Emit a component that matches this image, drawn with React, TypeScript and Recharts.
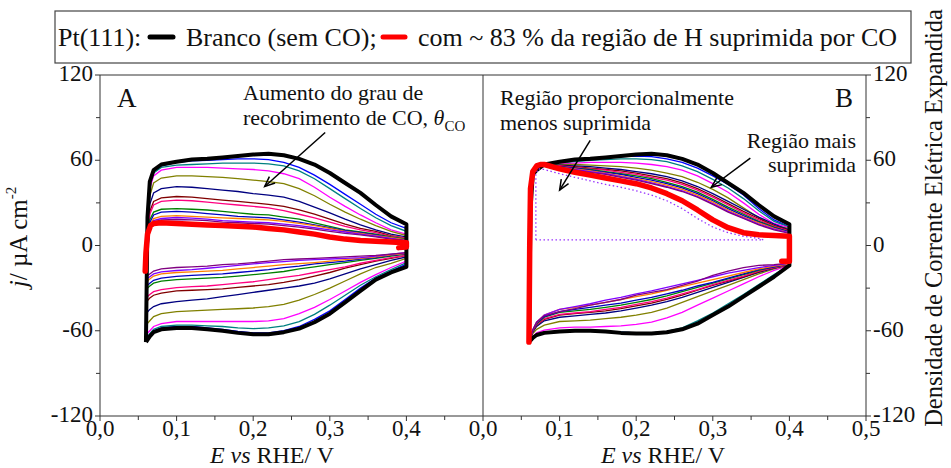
import { LineChart, Line, XAxis, YAxis, ReferenceLine } from "recharts";

/* ===== potential grids (V vs RHE) ===== */
const E_UP = [0.06, 0.062, 0.065, 0.07, 0.08, 0.1, 0.12, 0.14, 0.16, 0.18, 0.2, 0.22, 0.24, 0.26, 0.28, 0.3, 0.32, 0.34, 0.36, 0.38, 0.4];
const E_DN = [0.4, 0.38, 0.36, 0.34, 0.32, 0.3, 0.28, 0.26, 0.24, 0.22, 0.2, 0.18, 0.16, 0.14, 0.12, 0.1, 0.08, 0.07, 0.065, 0.06];

const X_TICKS_A = [0, 0.05, 0.1, 0.15, 0.2, 0.25, 0.3, 0.35, 0.4, 0.45];
const X_TICKS_B = [0, 0.05, 0.1, 0.15, 0.2, 0.25, 0.3, 0.35, 0.4, 0.45, 0.5];
const Y_TICKS = [-120, -90, -60, -30, 0, 30, 60, 90, 120];

// black (blank), blue, teal, magenta, olive, navy, maroon, pink, green, blue, orange, violet, purple
const SERIES_COLORS = ["#000000", "#0000FF", "#008080", "#FF00FF", "#808000", "#000080", "#800000", "#FF0080", "#008000", "#0000C0", "#FF8000", "#8000FF", "#800080"];

/* ===== Panel A: anodic branch (E_UP) ===== */
const A_UP = [
  [-68, 20, 45, 53, 57, 59, 60.5, 61, 62, 63, 64, 64.5, 63.5, 61, 57, 51, 44, 37, 28.5, 20.5, 15],
  [-66, 18, 43, 52, 56, 58.5, 59.5, 60, 60.5, 61, 61, 60.5, 58.5, 55, 49.5, 43, 36, 29, 22, 16, 12],
  [-65, 16, 42, 51, 55, 56.5, 57, 57.5, 58, 58, 58, 57.5, 56, 52.5, 47, 40, 33, 26, 19.5, 14, 10],
  [-63, 14, 40, 49, 53, 55, 55, 55, 54.5, 54, 53.5, 52.5, 50.5, 47, 41, 34, 27.5, 21.5, 16, 11, 8],
  [-56, 10, 35, 44, 47.5, 49, 49, 48.5, 48, 47, 46, 45, 43.5, 40, 35, 29, 23.5, 18.5, 14, 10, 7],
  [-48, 5, 29, 37, 40, 41.5, 41, 40, 39, 38, 36.5, 35.5, 34, 31, 27, 23, 18.5, 14.5, 11, 8, 6],
  [-40, 2, 24, 31, 33.5, 34.5, 34, 33, 32, 31, 30, 29, 27.5, 25, 22, 18.5, 15, 12, 10, 7, 5],
  [-37, 1, 22, 28.5, 31, 32, 31.5, 30.5, 29.5, 28.5, 27.5, 26.5, 24.5, 22, 19.5, 16.5, 13.5, 11, 9, 6.5, 5],
  [-31, -1, 18, 23.5, 25.5, 26, 25.5, 25, 24, 23, 22, 21.5, 20, 18.5, 16, 13.5, 11, 9.5, 8, 6, 4.5],
  [-29, -2, 16, 21.5, 23.5, 24, 23.5, 22.5, 21.5, 20.5, 20, 19.5, 18, 16.5, 14.5, 12.5, 10.5, 9, 7.5, 5.5, 4],
  [-26, -3, 14, 19, 20.5, 21, 20.5, 20, 19.5, 19, 18.5, 18, 17, 15.5, 14, 12, 10, 8.5, 7, 5.5, 4],
  [-24, -4, 12.5, 17.5, 19, 19.7, 19.2, 18.5, 17.5, 17, 16.5, 16, 15, 14, 12.5, 11, 9.5, 8, 6.5, 5, 3.5],
  [-22, -5, 11.5, 16.5, 18, 18.3, 18, 17.5, 16.5, 16, 15.5, 15, 14, 13, 11.5, 10, 8.5, 7.5, 6, 4.5, 3.5],
];

/* ===== Panel A: cathodic branch (E_DN) ===== */
const A_DN = [
  [-15, -19, -24, -32, -40, -48, -54, -58.5, -61, -62.5, -62.5, -61.5, -60, -59, -58, -58, -59, -61, -64, -68],
  [-13, -18, -23, -30, -38, -46, -52, -57, -60, -61.5, -61.5, -60.5, -59, -58, -57, -57, -58, -60, -63, -66],
  [-12, -17, -22, -28, -35, -42, -48.5, -53.5, -56.5, -58, -58.5, -58, -57, -56.5, -56, -56, -57, -59, -62, -65],
  [-11, -15.5, -20.5, -26, -32, -38, -43.5, -48, -51.5, -53, -53.5, -53.5, -53.5, -53.5, -53.5, -53.5, -55, -57, -60, -63],
  [-9, -12.5, -15.5, -20, -25, -30, -34.5, -38.5, -41.5, -43, -44, -44.5, -45, -45.5, -46, -46.5, -48, -50, -53, -56],
  [-8, -10.5, -13.5, -16.5, -20, -23.5, -26.5, -28.5, -30, -31.5, -33, -34.5, -36, -37.5, -38.5, -39.5, -41, -43, -45, -48],
  [-7, -9, -11, -13.5, -16, -19, -21.5, -24, -26, -27.5, -28.5, -29.5, -30.5, -31, -31.5, -32, -33.5, -35, -37, -40],
  [-7, -8.5, -10.5, -12.5, -15, -17, -19, -21, -22.5, -24, -25.5, -26.5, -27.5, -28.5, -29, -29.6, -31, -32.5, -34.5, -37],
  [-6, -7.5, -9, -10.5, -12, -13.5, -15, -16.5, -18.3, -19.5, -20.5, -21.5, -22.5, -23, -23.5, -24, -25, -26.5, -28.5, -31],
  [-6, -7, -8.5, -9.5, -11, -12, -13, -14.5, -15.5, -17, -18, -19, -20, -20.5, -21, -21.8, -23, -24.5, -26.5, -29],
  [-5.5, -6.5, -8, -9, -10, -11, -12, -12.8, -13.4, -14.5, -15.5, -16.5, -17.5, -18, -18.5, -19, -20, -21.5, -23.5, -26],
  [-5, -6, -7.5, -8.5, -9, -9.5, -10, -10.5, -11.3, -12, -13, -14, -15, -16, -17, -17.6, -18.5, -20, -22, -24],
  [-5, -6, -7, -7.5, -8, -8.5, -9, -9.5, -10, -11, -12, -13, -13.5, -14.5, -15, -15.5, -16.5, -18, -20, -22],
];

/* ===== Panel A: red (~83 % H region suppressed) ===== */
const A_RED_E = [0.059, 0.06, 0.062, 0.066, 0.07, 0.08, 0.1, 0.12, 0.14, 0.16, 0.18, 0.2, 0.22, 0.24, 0.26, 0.28, 0.3, 0.32, 0.34, 0.36, 0.38, 0.4, 0.4, 0.39];
const A_RED_J = [-18, -5, 8, 14, 15.5, 16, 15.5, 15, 14.5, 14, 13.5, 13, 12, 11, 9.5, 8, 6, 4.5, 3.5, 3, 2.5, 2, -1, -1.5];

/* ===== Panel B (expanded): anodic branch ===== */
const B_UP = [
  [-68, 25, 50, 53, 57, 59, 60.5, 61, 62, 63, 64, 64.5, 63.5, 61, 57, 51, 44, 37, 28.5, 20.5, 15],
  [-68, 25, 50, 53, 57, 58.5, 59.5, 60.5, 61.5, 62.5, 63, 62.5, 61, 58.5, 54.5, 49, 43, 35.5, 26, 18, 13],
  [-68, 25, 50, 53, 57, 58, 59, 60, 60.5, 61, 61, 60.5, 59, 56, 52, 46.5, 40.5, 33, 24.5, 17, 13],
  [-68, 25, 50, 53, 57, 57.5, 58, 58.5, 58.5, 58.5, 58, 57, 55.5, 53, 49, 43.5, 37.5, 30, 22, 15.5, 12.5],
  [-68, 25, 50, 53, 57, 57, 57, 56.5, 56, 55.5, 54.5, 53, 51, 48.5, 44.5, 39.5, 33.5, 26.5, 19.5, 14, 12],
  [-68, 25, 50, 53, 56.5, 56.5, 56, 55.5, 54.5, 53.5, 52, 50.5, 48.5, 45.5, 41.5, 36.5, 31, 25.5, 20, 15, 11],
  [-68, 25, 50, 53, 56.5, 56, 55.5, 54.5, 53.5, 52.5, 51, 49, 47, 44, 40, 35, 29.5, 24, 19, 14, 10.5],
  [-68, 25, 50, 53, 56.5, 56, 55, 54, 53, 51.5, 50, 48, 46, 43, 39, 34, 28.5, 23, 18, 13.5, 10],
  [-68, 25, 50, 53, 56.5, 55.5, 54.5, 53.5, 52, 50.5, 49, 47, 44.5, 41.5, 37.5, 32.5, 27, 22, 17, 13, 9.5],
  [-68, 25, 50, 53, 56.5, 55.5, 54.5, 53, 51.5, 50, 48, 46, 43.5, 40.5, 36.5, 31.5, 26, 21, 16.5, 12.5, 9.5],
  [-68, 25, 50, 53, 56.5, 55, 54, 52.5, 51, 49, 47, 45, 42.5, 39.5, 35.5, 30.5, 25, 20, 16, 12, 9],
  [-68, 25, 50, 53, 56.5, 55, 53.5, 52, 50.5, 48.5, 46.5, 44, 41.5, 38.5, 34.5, 29.5, 24, 19.5, 15, 11.5, 9],
  [-68, 25, 50, 53, 56.5, 54.5, 53, 51.5, 50, 48, 46, 43.5, 41, 38, 34, 29, 23.5, 19, 14.5, 11, 8.5],
];

/* ===== Panel B (expanded): cathodic branch ===== */
const B_DN = [
  [-14, -22, -29, -36, -43, -49, -55, -59, -61, -62, -62, -61.5, -60.5, -60, -60, -60.5, -61.5, -63, -65, -68],
  [-14, -21, -28, -35, -42, -48.5, -54, -58.5, -60.5, -61.5, -61.5, -61, -60.5, -60, -60, -60.5, -61.5, -63, -65, -68],
  [-14, -20.5, -27.5, -34.5, -41, -47.5, -53, -58, -60.5, -61.5, -61.5, -61, -60.5, -60, -60, -60.5, -61.5, -63, -65, -68],
  [-14, -17.5, -22, -27, -32, -37, -42, -47, -51, -54, -55.5, -56.5, -57, -57.5, -57.5, -58, -59.5, -61.5, -64, -68],
  [-13.5, -16.5, -20, -24, -28, -32, -36, -40, -44, -47, -49, -50.5, -51.5, -52.5, -53, -53.5, -56, -59, -62, -68],
  [-13.5, -16, -19, -22.5, -26, -29.5, -33, -36.5, -39.5, -42, -44, -46, -47.5, -48.5, -49.5, -50.5, -53, -57, -61, -68],
  [-13.5, -15.5, -18.5, -22, -25, -28, -31.5, -35, -38, -40.5, -42.5, -44.5, -46, -47, -48, -49, -52, -56, -60.5, -68],
  [-13.5, -15.5, -18, -21.5, -24.5, -27.5, -31, -34, -37, -39.5, -41.5, -43.5, -45, -46.5, -47.5, -48.5, -51.5, -55.5, -60, -68],
  [-13, -15, -17.5, -20.5, -23.5, -26.5, -29.5, -32.5, -35.5, -38, -40, -42, -43.5, -45, -46, -47, -50.5, -55, -60, -68],
  [-13, -15, -17, -20, -23, -26, -28.5, -31.5, -34, -36.5, -38.5, -40.5, -42, -43.5, -45, -46.5, -50, -54.5, -59.5, -68],
  [-13, -14.5, -16.5, -19, -21.5, -24, -26.5, -29, -31.5, -34, -36, -38, -40, -42, -43.5, -45, -49, -54, -59.5, -68],
  [-12.5, -14, -15.5, -17.5, -19.5, -22, -24.5, -27, -29.5, -32, -34, -36.5, -38.5, -41, -43, -45, -49, -54, -59.5, -68],
  [-12.5, -13.5, -14, -15.5, -18, -21, -25, -28, -31, -33, -35, -38, -40, -42, -44.5, -46.5, -49.5, -54, -59.5, -68],
];

/* ===== Panel B: red + dotted "less suppressed" region ===== */
const B_RED_E = [0.06, 0.061, 0.062, 0.065, 0.07, 0.075, 0.08, 0.1, 0.12, 0.14, 0.16, 0.18, 0.2, 0.22, 0.24, 0.26, 0.28, 0.3, 0.32, 0.34, 0.36, 0.38, 0.4, 0.4, 0.39];
const B_RED_J = [-68, 0, 40, 52, 56, 57, 57, 54, 51.5, 49.5, 47.5, 45.5, 43.5, 40.5, 36.5, 31.5, 25, 18, 12.5, 9, 7.5, 7, 6.5, -11, -11];
const B_DOT_E = [0.069, 0.069, 0.072, 0.08, 0.1, 0.12, 0.14, 0.16, 0.18, 0.2, 0.22, 0.24, 0.26, 0.28, 0.3, 0.32, 0.34, 0.36, 0.366, 0.069];
const B_DOT_J = [4, 50, 54, 53.5, 50.5, 48, 45.5, 43, 41, 38.5, 35.5, 31.5, 26, 19, 13, 9, 6.5, 5, 4, 4];

/* ===== annotation arrows (data coords) ===== */
const ARROW_A = [{ x: 0.294, y: 79.5 }, { x: 0.215, y: 41.5 }];
const ARROW_B1 = [{ x: 0.14, y: 74 }, { x: 0.1, y: 39 }];
const ARROW_B2 = [{ x: 0.349, y: 61.5 }, { x: 0.298, y: 41 }];

const FONT = "Liberation Serif";
const AXIS = "#333";
const txt = { fontFamily: FONT };

const toPts = (es: number[], js: number[]) => es.map((e, i) => ({ e, j: js[i] }));
const loop = (up: number[], dn: number[]) => [...toPts(E_UP, up), ...toPts(E_DN, dn)];

const XTick = ({ x, y, payload }: any) => {
  const v = payload.value;
  const major = Math.round(v * 100) % 10 === 0;
  return (
    <g>
      <line x1={x} x2={x} y1={y} y2={y + (major ? 5 : 4)} stroke={AXIS} />
      {major && (
        <text x={x} y={y + 20} textAnchor="middle" fontSize={23} style={txt} fill="#111">
          {v.toFixed(1).replace(".", ",")}
        </text>
      )}
    </g>
  );
};

const YTick = ({ x, y, payload, side }: any) => {
  const v = payload.value;
  const major = v % 60 === 0;
  const s = side === "left" ? -1 : 1;
  return (
    <g>
      <line x1={x} x2={x + s * (major ? 5 : 4)} y1={y} y2={y} stroke={AXIS} />
      {major && (
        <text x={x + s * 7} y={y + 6} textAnchor={side === "left" ? "end" : "start"} fontSize={23} style={txt} fill="#111">
          {v}
        </text>
      )}
    </g>
  );
};

const Arrow = (p: any) => {
  const { x1, y1, x2, y2 } = p;
  const a = Math.atan2(y2 - y1, x2 - x1);
  const L = 11;
  const h1x = x2 - L * Math.cos(a - 0.4), h1y = y2 - L * Math.sin(a - 0.4);
  const h2x = x2 - L * Math.cos(a + 0.4), h2y = y2 - L * Math.sin(a + 0.4);
  return (
    <g>
      <line x1={x1} y1={y1} x2={x2} y2={y2} stroke="#000" strokeWidth={1.5} />
      <path d={`M${h1x},${h1y} L${x2},${y2} L${h2x},${h2y}`} fill="none" stroke="#000" strokeWidth={1.5} />
    </g>
  );
};

const thinLines = (up: number[][], dn: number[][], key: string) =>
  up.slice(1).map((u, i) => (
    <Line
      key={`${key}${i}`}
      data={loop(u, dn[i + 1])}
      dataKey="j"
      type="linear"
      stroke={SERIES_COLORS[i + 1]}
      strokeWidth={1.3}
      dot={false}
      isAnimationActive={false}
    />
  ));

const App = () => {
  return (
    <div style={{ position: "absolute", left: 0, top: 0, width: 951, height: 468, background: "#fff" }}>
      {/* ===== PAINEL A ===== */}
      <div style={{ position: "absolute", left: 0, top: 0 }}>
        <LineChart width={490} height={468} margin={{ top: 75, right: 7, bottom: 22, left: 40 }}>
          <XAxis
            dataKey="e"
            type="number"
            domain={[0, 0.5]}
            ticks={X_TICKS_A}
            interval={0}
            tickSize={0}
            tickMargin={0}
            tickLine={false}
            height={30}
            axisLine={{ stroke: AXIS }}
            tick={(p: any) => <XTick {...p} />}
          />
          <YAxis
            type="number"
            domain={[-120, 120]}
            ticks={Y_TICKS}
            interval={0}
            tickSize={0}
            tickMargin={0}
            tickLine={false}
            width={60}
            axisLine={{ stroke: AXIS }}
            tick={(p: any) => <YTick {...p} side="left" />}
          />
          <ReferenceLine y={120} stroke={AXIS} />
          <ReferenceLine x={0.5} stroke={AXIS} />
          {thinLines(A_UP, A_DN, "a")}
          <Line data={loop(A_UP[0], A_DN[0])} dataKey="j" type="linear" stroke="#000" strokeWidth={4} dot={false} isAnimationActive={false} strokeLinejoin="round" />
          <Line data={toPts(A_RED_E, A_RED_J)} dataKey="j" type="linear" stroke="#FF0000" strokeWidth={5.5} dot={false} isAnimationActive={false} strokeLinejoin="round" strokeLinecap="round" />
          <ReferenceLine segment={ARROW_A} shape={(p: any) => <Arrow {...p} />} />
        </LineChart>
      </div>

      {/* ===== PAINEL B ===== */}
      <div style={{ position: "absolute", left: 463, top: 0 }}>
        <LineChart width={488} height={468} margin={{ top: 75, right: 45, bottom: 22, left: 20 }}>
          <XAxis
            dataKey="e"
            type="number"
            domain={[0, 0.5]}
            ticks={X_TICKS_B}
            interval={0}
            tickSize={0}
            tickMargin={0}
            tickLine={false}
            height={30}
            axisLine={{ stroke: AXIS }}
            tick={(p: any) => <XTick {...p} />}
          />
          <YAxis
            orientation="right"
            type="number"
            domain={[-120, 120]}
            ticks={Y_TICKS}
            interval={0}
            tickSize={0}
            tickMargin={0}
            tickLine={false}
            width={40}
            axisLine={{ stroke: AXIS }}
            tick={(p: any) => <YTick {...p} side="right" />}
          />
          <ReferenceLine y={120} stroke={AXIS} />
          {thinLines(B_UP, B_DN, "b")}
          <Line data={loop(B_UP[0], B_DN[0])} dataKey="j" type="linear" stroke="#000" strokeWidth={4} dot={false} isAnimationActive={false} strokeLinejoin="round" />
          <Line data={toPts(B_DOT_E, B_DOT_J)} dataKey="j" type="linear" stroke="#9933FF" strokeWidth={1.3} strokeDasharray="1.5 2.5" dot={false} isAnimationActive={false} />
          <Line data={toPts(B_RED_E, B_RED_J)} dataKey="j" type="linear" stroke="#FF0000" strokeWidth={5.5} dot={false} isAnimationActive={false} strokeLinejoin="round" strokeLinecap="round" />
          <ReferenceLine segment={ARROW_B1} shape={(p: any) => <Arrow {...p} />} />
          <ReferenceLine segment={ARROW_B2} shape={(p: any) => <Arrow {...p} />} />
        </LineChart>
      </div>

      {/* ===== textos ===== */}
      <svg width={951} height={468} style={{ position: "absolute", left: 0, top: 0, pointerEvents: "none", fontFamily: FONT }} fill="#111">
        <rect x={55} y={11} width={856} height={52} fill="#fff" stroke="#444" strokeWidth={1.2} />
        <text x={58} y={46} fontSize={26} style={txt}>Pt(111):</text>
        <line x1={150} x2={173} y1={37} y2={37} stroke="#000" strokeWidth={5} strokeLinecap="round" />
        <text x={186} y={46} fontSize={26} style={txt}>Branco (sem CO);</text>
        <line x1={383} x2={405} y1={37} y2={37} stroke="#FF0000" strokeWidth={5} strokeLinecap="round" />
        <text x={418} y={46} fontSize={26} style={txt}>com ~ 83 % da região de H suprimida por CO</text>

        <text x={117} y={107} fontSize={27} style={txt}>A</text>
        <text x={853} y={107} fontSize={27} textAnchor="end" style={txt}>B</text>

        <text x={243} y={100} fontSize={22} style={txt}>Aumento do grau de</text>
        <text x={243} y={125} fontSize={22} style={txt}>
          recobrimento de CO, <tspan fontStyle="italic">θ</tspan>
          <tspan fontSize={15} dy={6}>CO</tspan>
        </text>

        <text x={500} y={105} fontSize={22} style={txt}>Região proporcionalmente</text>
        <text x={500} y={130} fontSize={22} style={txt}>menos suprimida</text>
        <text x={856} y={148} fontSize={22} textAnchor="end" style={txt}>Região mais</text>
        <text x={856} y={172} fontSize={22} textAnchor="end" style={txt}>suprimida</text>

        <text transform="rotate(-90 27 237)" x={27} y={237} fontSize={25} textAnchor="middle" style={txt}>
          <tspan fontStyle="italic">j</tspan>/ µA cm<tspan fontSize={15} dy={-11}>-2</tspan>
        </text>
        <text transform="rotate(-90 942 218)" x={942} y={218} fontSize={24.5} textAnchor="middle" style={txt}>
          Densidade de Corrente Elétrica Expandida
        </text>

        <text x={272} y={463} fontSize={24} textAnchor="middle" style={txt}>
          <tspan fontStyle="italic">E vs</tspan> RHE/ V
        </text>
        <text x={663} y={463} fontSize={24} textAnchor="middle" style={txt}>
          <tspan fontStyle="italic">E vs</tspan> RHE/ V
        </text>
      </svg>
    </div>
  );
};

export default App;
